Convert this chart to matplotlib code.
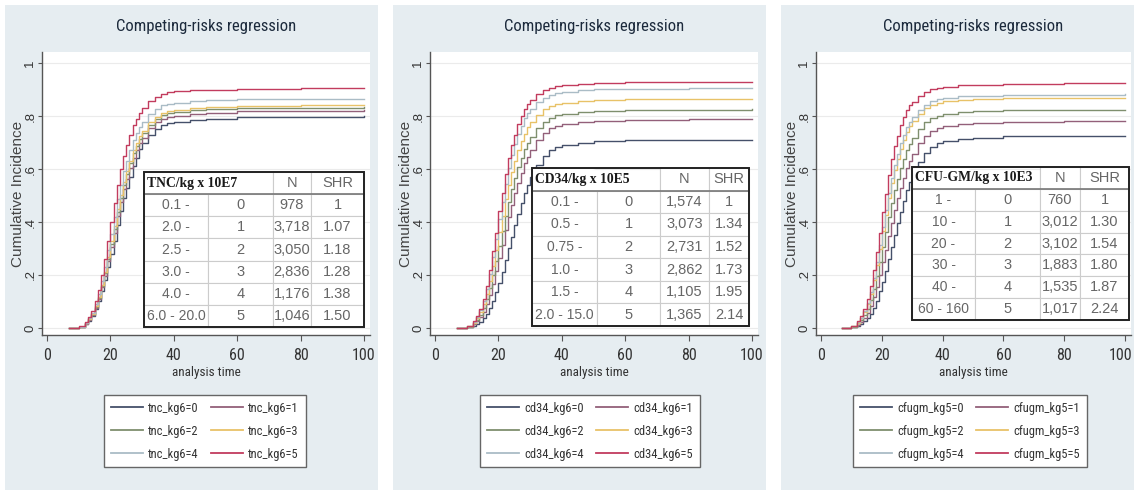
import matplotlib
matplotlib.use("Agg")
import matplotlib.pyplot as plt
from matplotlib.patches import Rectangle
from matplotlib.lines import Line2D
from matplotlib.transforms import ScaledTranslation
from matplotlib import font_manager

# ---------------- data ----------------
time_days = [7, 10, 12, 13, 14, 15, 16, 17, 18, 19, 20, 21, 22, 23, 24, 25, 26,
             27, 28, 29, 30, 32, 34, 36, 38, 40, 45, 50, 60, 80, 100]
levels = ['0', '1', '2', '3', '4', '5']

tnc_cif = [
    [0, 0.004, 0.015, 0.028, 0.045, 0.07, 0.10, 0.14, 0.18, 0.23, 0.28, 0.33, 0.39, 0.44, 0.49, 0.53, 0.57, 0.61, 0.64, 0.675, 0.70, 0.728, 0.75, 0.765, 0.773, 0.778, 0.785, 0.79, 0.795, 0.798, 0.799],
    [0, 0.004, 0.016, 0.031, 0.049, 0.076, 0.109, 0.153, 0.197, 0.251, 0.305, 0.359, 0.422, 0.474, 0.524, 0.564, 0.604, 0.643, 0.672, 0.699, 0.719, 0.753, 0.776, 0.79, 0.798, 0.802, 0.809, 0.813, 0.818, 0.82, 0.821],
    [0, 0.005, 0.017, 0.032, 0.051, 0.080, 0.114, 0.159, 0.206, 0.262, 0.318, 0.375, 0.438, 0.491, 0.541, 0.581, 0.621, 0.660, 0.688, 0.715, 0.735, 0.767, 0.789, 0.803, 0.810, 0.815, 0.821, 0.825, 0.830, 0.832, 0.833],
    [0, 0.005, 0.018, 0.033, 0.053, 0.082, 0.118, 0.163, 0.211, 0.269, 0.327, 0.385, 0.449, 0.502, 0.552, 0.592, 0.632, 0.671, 0.699, 0.725, 0.745, 0.777, 0.798, 0.811, 0.819, 0.823, 0.829, 0.833, 0.837, 0.840, 0.840],
    [0, 0.005, 0.019, 0.036, 0.058, 0.089, 0.128, 0.178, 0.230, 0.293, 0.356, 0.418, 0.485, 0.541, 0.591, 0.631, 0.671, 0.708, 0.735, 0.758, 0.778, 0.808, 0.828, 0.840, 0.847, 0.851, 0.856, 0.859, 0.863, 0.865, 0.866],
    [0, 0.006, 0.022, 0.04, 0.065, 0.10, 0.145, 0.20, 0.26, 0.33, 0.40, 0.47, 0.54, 0.60, 0.65, 0.69, 0.73, 0.765, 0.79, 0.81, 0.83, 0.857, 0.873, 0.884, 0.89, 0.894, 0.898, 0.90, 0.903, 0.905, 0.905],
]
cd34_cif = [
    [0, 0.002, 0.008, 0.014, 0.024, 0.036, 0.052, 0.075, 0.10, 0.135, 0.17, 0.21, 0.255, 0.30, 0.345, 0.39, 0.43, 0.47, 0.51, 0.54, 0.57, 0.615, 0.648, 0.67, 0.683, 0.691, 0.70, 0.704, 0.708, 0.71, 0.711],
    [0, 0.004, 0.014, 0.025, 0.041, 0.062, 0.090, 0.126, 0.167, 0.214, 0.265, 0.315, 0.369, 0.419, 0.466, 0.509, 0.549, 0.586, 0.621, 0.647, 0.672, 0.708, 0.735, 0.753, 0.764, 0.770, 0.778, 0.781, 0.785, 0.787, 0.787],
    [0, 0.005, 0.017, 0.030, 0.049, 0.074, 0.108, 0.150, 0.199, 0.252, 0.310, 0.366, 0.424, 0.477, 0.524, 0.567, 0.607, 0.642, 0.674, 0.699, 0.721, 0.754, 0.777, 0.793, 0.803, 0.809, 0.815, 0.819, 0.822, 0.824, 0.825],
    [0, 0.006, 0.020, 0.036, 0.059, 0.089, 0.129, 0.178, 0.235, 0.295, 0.362, 0.423, 0.486, 0.541, 0.590, 0.631, 0.671, 0.704, 0.734, 0.757, 0.776, 0.805, 0.825, 0.838, 0.846, 0.851, 0.858, 0.861, 0.864, 0.866, 0.866],
    [0, 0.0065, 0.023, 0.042, 0.068, 0.102, 0.148, 0.204, 0.269, 0.335, 0.410, 0.477, 0.544, 0.603, 0.652, 0.693, 0.733, 0.764, 0.791, 0.811, 0.828, 0.853, 0.870, 0.881, 0.888, 0.892, 0.898, 0.901, 0.903, 0.905, 0.906],
    [0, 0.007, 0.025, 0.045, 0.073, 0.11, 0.16, 0.22, 0.29, 0.36, 0.44, 0.51, 0.58, 0.64, 0.69, 0.73, 0.77, 0.80, 0.826, 0.845, 0.86, 0.882, 0.897, 0.907, 0.913, 0.917, 0.922, 0.925, 0.927, 0.929, 0.929],
]
cfu_cif = [
    [0, 0.002, 0.008, 0.014, 0.025, 0.037, 0.053, 0.077, 0.102, 0.138, 0.174, 0.214, 0.26, 0.306, 0.352, 0.398, 0.439, 0.48, 0.521, 0.551, 0.582, 0.628, 0.662, 0.684, 0.697, 0.706, 0.715, 0.719, 0.723, 0.725, 0.726],
    [0, 0.003, 0.013, 0.023, 0.038, 0.057, 0.083, 0.117, 0.154, 0.2, 0.248, 0.296, 0.348, 0.398, 0.446, 0.49, 0.530, 0.568, 0.605, 0.632, 0.658, 0.697, 0.726, 0.745, 0.756, 0.763, 0.771, 0.775, 0.778, 0.780, 0.781],
    [0, 0.0045, 0.017, 0.030, 0.049, 0.073, 0.106, 0.148, 0.195, 0.248, 0.306, 0.361, 0.418, 0.471, 0.519, 0.562, 0.602, 0.638, 0.671, 0.696, 0.718, 0.752, 0.777, 0.793, 0.802, 0.809, 0.816, 0.819, 0.822, 0.824, 0.824],
    [0, 0.006, 0.020, 0.037, 0.060, 0.090, 0.130, 0.181, 0.238, 0.299, 0.366, 0.428, 0.491, 0.547, 0.596, 0.637, 0.677, 0.710, 0.740, 0.762, 0.781, 0.809, 0.829, 0.842, 0.850, 0.856, 0.862, 0.865, 0.868, 0.870, 0.870],
    [0, 0.006, 0.021, 0.038, 0.063, 0.094, 0.137, 0.189, 0.249, 0.312, 0.382, 0.445, 0.510, 0.567, 0.616, 0.656, 0.697, 0.729, 0.758, 0.779, 0.797, 0.824, 0.843, 0.855, 0.863, 0.868, 0.874, 0.877, 0.879, 0.881, 0.882],
    [0, 0.007, 0.025, 0.045, 0.073, 0.109, 0.159, 0.219, 0.288, 0.358, 0.437, 0.507, 0.576, 0.636, 0.686, 0.725, 0.765, 0.795, 0.821, 0.84, 0.854, 0.876, 0.891, 0.901, 0.907, 0.911, 0.916, 0.919, 0.921, 0.923, 0.923],
]

tnc_ranges = ['0.1 -', '2.0 -', '2.5 -', '3.0 -', '4.0 -', '6.0 - 20.0']
tnc_n = ['978', '3,718', '3,050', '2,836', '1,176', '1,046']
tnc_shr = ['1', '1.07', '1.18', '1.28', '1.38', '1.50']

cd34_ranges = ['0.1 -', '0.5 -', '0.75 -', '1.0 -', '1.5 -', '2.0 - 15.0']
cd34_n = ['1,574', '3,073', '2,731', '2,862', '1,105', '1,365']
cd34_shr = ['1', '1.34', '1.52', '1.73', '1.95', '2.14']

cfu_ranges = ['1 -', '10 -', '20 -', '30 -', '40 -', '60 - 160']
cfu_n = ['760', '3,012', '3,102', '1,883', '1,535', '1,017']
cfu_shr = ['1', '1.30', '1.54', '1.80', '1.87', '2.24']

table_heads = ['TNC/kg x 10E7', 'CD34/kg x 10E5', 'CFU-GM/kg x 10E3']
legend_prefixes = ['tnc_kg6', 'cd34_kg6', 'cfugm_kg5']
x_ticks = [0, 20, 40, 60, 80, 100]
y_ticks = [0, 0.2, 0.4, 0.6, 0.8, 1.0]
y_ticklabels = ['0', '.2', '.4', '.6', '.8', '1']

# ---------------- style ----------------
W, H = 1134, 490
BG = '#e6edf1'
COLORS = ['#45506a', '#93607a', '#7f8f6e', '#e8c268', '#aabcc6', '#c23c5e']

ttf = font_manager.fontManager.ttflist
names = {f.name for f in ttf}
NARROW, NSTRETCH = 'DejaVu Sans', 'condensed'
for cand in ['Liberation Sans Narrow', 'Roboto Condensed', 'Open Sans Condensed',
             'Noto Sans Condensed', 'Arial Narrow']:
    if cand in names:
        NARROW, NSTRETCH = cand, 'normal'
        break
else:
    for fam in ['Noto Sans', 'Open Sans', 'Roboto']:
        if any(f.name == fam and f.stretch in ('condensed', 'semi-condensed',
                                                'extra-condensed') for f in ttf):
            NARROW, NSTRETCH = fam, 'condensed'
            break
SANS = 'Liberation Sans'
SERIF = 'Liberation Serif'

panels = [
    dict(bg=(5, 378), ax=(42, 52, 370, 335), table=(144, 172, 364, 327),
         colw=[64, 65, 38, 53], leg=(205, 431), ylab_x=18),
    dict(bg=(393, 766), ax=(430, 52, 758, 335), table=(532, 168, 749, 326),
         colw=[65, 63, 49, 40], leg=(590, 431), ylab_x=406),
    dict(bg=(781, 1134), ax=(816, 52, 1131, 335), table=(912, 167, 1129, 320),
         colw=[63, 65, 40, 49], leg=(970, 431), ylab_x=792),
]

fig = plt.figure(figsize=(W / 100, H / 100), dpi=100, facecolor='white')


def draw_panel(cfg, cif, ranges, ns, shrs, head, prefix, last=False):
    bl, br = cfg['bg']
    fig.add_artist(Rectangle((bl / W, 0), (br - bl) / W, 1 - 5 / H,
                             transform=fig.transFigure, facecolor=BG,
                             edgecolor='none', zorder=0))
    l, t, r, b = cfg['ax']
    aw, ah = r - l, b - t
    ax = fig.add_axes([l / W, 1 - b / H, aw / W, ah / H])
    ax.set_facecolor('white')
    lines = []
    for k in range(6):
        ln, = ax.plot(time_days, cif[k], drawstyle='steps-post', color=COLORS[k],
                      lw=1.0, label=f'{prefix}={levels[k]}', zorder=2)
        lines.append(ln)
    ax.set_xlim(-1.6, 101.9)
    ax.set_ylim(-0.0266, 1.0418)
    ax.set_xticks(x_ticks)
    ax.set_yticks(y_ticks)
    ax.set_yticklabels(y_ticklabels, rotation=90, va='center')
    ax.grid(axis='y', color='#ebebeb', lw=0.8)
    ax.set_axisbelow(True)
    for s in ['top', 'right']:
        ax.spines[s].set_visible(False)
    for s in ['left', 'bottom']:
        ax.spines[s].set_color('#555555')
        ax.spines[s].set_linewidth(1.0)
    ax.tick_params(axis='x', length=4, width=0.8, color='#555555', labelsize=11.5,
                   labelcolor='#333333', pad=5)
    ax.tick_params(axis='y', length=3, width=0.8, color='#555555', labelsize=9.5,
                   labelcolor='#333333', pad=1)
    for lbl in ax.get_xticklabels():
        lbl.set_fontfamily(NARROW)
        lbl.set_fontstretch(NSTRETCH)
    if last:
        lbl = ax.get_xticklabels()[-1]
        lbl.set_transform(lbl.get_transform() +
                          ScaledTranslation(-5 / 100, 0, fig.dpi_scale_trans))
    for lbl in ax.get_yticklabels():
        lbl.set_fontfamily(SANS)

    # title
    fig.text((l + r) / 2 / W, 1 - 27 / H, 'Competing-risks regression',
             ha='center', va='center', fontsize=12, color='#1c2a3c',
             family=NARROW, fontstretch=NSTRETCH)
    # axis labels
    ax.set_ylabel('Cumulative Incidence', fontsize=11, color='#444444', family=SANS)
    ax.yaxis.set_label_coords((cfg['ylab_x'] - l) / aw, 0.5)
    ax.yaxis.label.set_va('center')
    ax.set_xlabel('analysis time', fontsize=9.5, color='#333333', family=NARROW,
                  fontstretch=NSTRETCH)
    ax.xaxis.set_label_coords(0.5, (b - 366) / ah)

    # legend
    order = [0, 2, 4, 1, 3, 5]
    cx, cy = cfg['leg']
    leg = ax.legend(handles=[lines[i] for i in order], ncol=2, loc='center',
                    bbox_to_anchor=(cx / W, 1 - cy / H), bbox_transform=fig.transFigure,
                    frameon=True, fancybox=False, edgecolor='#666666', facecolor='white',
                    framealpha=1, prop={'family': NARROW, 'stretch': NSTRETCH, 'size': 9},
                    handlelength=2.5, handletextpad=0.45, columnspacing=1.0,
                    labelspacing=0.8, borderpad=0.55, borderaxespad=0)
    leg.get_frame().set_linewidth(1.0)
    for h in leg.legend_handles:
        h.set_linewidth(1.3)
    for tx in leg.get_texts():
        tx.set_color('#333333')

    # table
    x0, y0, x1, y1 = cfg['table']
    cell_text = [[head, '', 'N', 'SHR']] + [[ranges[i], levels[i], ns[i], shrs[i]]
                                            for i in range(6)]
    tb = ax.table(cellText=cell_text, colWidths=[c / aw for c in cfg['colw']],
                  bbox=[(x0 - l) / aw, (b - y1) / ah, (x1 - x0) / aw, (y1 - y0) / ah],
                  cellLoc='center', zorder=5)
    tb.auto_set_font_size(False)
    for (row, col), cell in tb.get_celld().items():
        cell.set_edgecolor('#cccccc')
        cell.set_linewidth(0.8)
        cell.set_facecolor('white')
        txt = cell.get_text()
        txt.set_fontsize(10.5 if col > 0 else 10)
        txt.set_color('#666666')
        txt.set_fontfamily(SANS)
        if row == 0 and col == 0:
            txt.set_ha('left')
            txt.set_fontfamily(SERIF)
            txt.set_fontweight('bold')
            txt.set_color('#1a1a1a')
            txt.set_fontsize(9.8)
            cell.visible_edges = 'BTL'
            cell.PAD = 0.04
        if row == 0 and col == 1:
            cell.visible_edges = 'BTR'
            cell.set_facecolor('none')
    hh = (y1 - y0) / 7
    ax.add_artist(Line2D([x0 / W, x1 / W], [1 - (y0 + hh) / H] * 2,
                         transform=fig.transFigure, color='#777777', lw=1.2,
                         zorder=6, clip_on=False))
    ax.add_patch(Rectangle((x0 / W, 1 - y1 / H), (x1 - x0) / W, (y1 - y0) / H,
                           transform=fig.transFigure, fill=False, lw=1.4,
                           edgecolor='#222222', zorder=7, clip_on=False))
    return ax


draw_panel(panels[0], tnc_cif, tnc_ranges, tnc_n, tnc_shr, table_heads[0], legend_prefixes[0])
draw_panel(panels[1], cd34_cif, cd34_ranges, cd34_n, cd34_shr, table_heads[1], legend_prefixes[1])
draw_panel(panels[2], cfu_cif, cfu_ranges, cfu_n, cfu_shr, table_heads[2], legend_prefixes[2],
           last=True)

fig.savefig('out.png', dpi=100, facecolor='white')
